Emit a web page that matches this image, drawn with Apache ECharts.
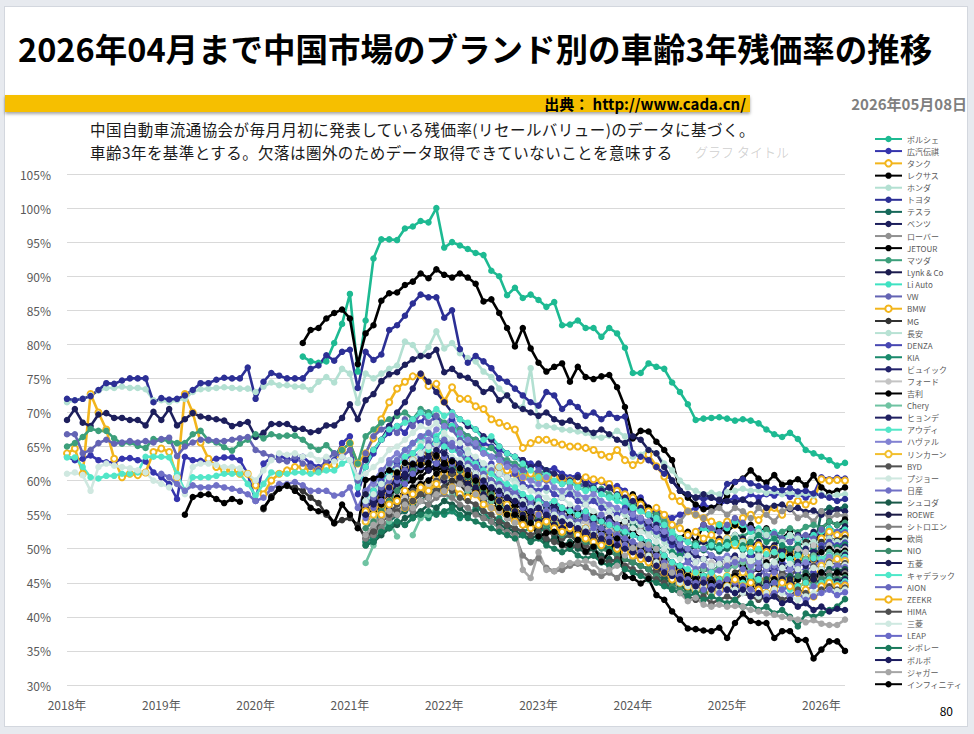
<!DOCTYPE html>
<html><head><meta charset="utf-8">
<script src="https://cdn.jsdelivr.net/npm/echarts/dist/echarts.min.js"></script>
<style>
html,body{margin:0;padding:0;background:#e7eaef;width:974px;height:734px;overflow:hidden;font-family:"Noto Sans CJK JP","Noto Sans",sans-serif;}
#panel{position:absolute;left:4px;top:6px;width:962px;height:719px;background:#fff;border:1px solid #d3d7de;}
#chart{position:absolute;left:0;top:0;width:974px;height:734px;z-index:1;}
.t{position:absolute;z-index:2;white-space:nowrap;margin:0;padding:0;}
#title{left:18px;top:24px;font-size:32.5px;font-weight:bold;color:#000;line-height:normal;}
#bar{position:absolute;z-index:2;left:5px;top:95px;width:745px;height:17px;background:#f6bf00;box-shadow:0 2px 3px rgba(0,0,0,0.35);}
#src{right:228px;top:94.6px;font-size:15px;font-weight:bold;color:#000;line-height:17px;}
#date{right:7px;top:94.6px;font-size:15px;font-weight:bold;color:#7f7f7f;line-height:17px;}
.sub{left:90px;font-size:15.5px;letter-spacing:0.45px;color:#1a1a1a;line-height:23px;}
#sub1{top:118px;}
#sub2{top:141px;}
#ghost{left:695px;top:144px;font-size:13px;line-height:15px;color:rgba(0,0,0,0.18);}
#page{right:21px;top:704.4px;font-size:12px;line-height:14px;color:#000;}
</style></head><body>
<div id="panel"></div>
<div id="chart"></div>
<div class="t" id="title">2026年04月まで中国市場のブランド別の車齢3年残価率の推移</div>
<div id="bar"></div>
<div class="t" id="src">出典： http://www.cada.cn/</div>
<div class="t" id="date">2026年05月08日</div>
<div class="t sub" id="sub1">中国自動車流通協会が毎月月初に発表している残価率(リセールバリュー)のデータに基づく。</div>
<div class="t sub" id="sub2">車齢3年を基準とする。欠落は圏外のためデータ取得できていないことを意味する</div>
<div class="t" id="ghost">グラフ タイトル</div>
<div class="t" id="page">80</div>
<script>
// ---- tick labels / categories ----
const months = [];
for (let y = 2018; y <= 2026; y++) for (let m = 1; m <= 12; m++) { if (y === 2026 && m > 4) break; months.push(y + '-' + String(m).padStart(2, '0')); }
const yTicks = [30, 35, 40, 45, 50, 55, 60, 65, 70, 75, 80, 85, 90, 95, 100, 105];

// ---- brands (legend order) ----
const brands = ['ポルシェ','広汽伝祺','タンク','レクサス','ホンダ','トヨタ','テスラ','ベンツ','ローバー','JETOUR','マツダ','Lynk & Co','Li Auto','VW','BMW','MG','長安','DENZA','KIA','ビュイック','フォード','吉利','Chery','ヒョンデ','アウディ','ハヴァル','リンカーン','BYD','プジョー','日産','シュコダ','ROEWE','シトロエン','欧尚','NIO','五菱','キャデラック','AION','ZEEKR','HIMA','三菱','LEAP','シボレー','ボルボ','ジャガー','インフィニティ'];
// first month index of each series
const startIdx = [30,0,0,30,0,0,38,0,38,38,0,38,38,0,38,25,38,38,38,38,38,38,38,38,0,38,38,38,0,12,38,38,38,38,38,38,38,38,38,38,38,38,38,38,38,15];

// ---- series values (%) ----
const v_porsche = [78.2,77.5,77.3,77.5,80.2,83.0,
 87.4,76.0,83.5,92.6,95.4,95.4,95.3,97.0,97.3,98.1,97.9,100.0,
 94.2,95.0,94.5,94.0,93.4,93.1,90.8,90.0,87.2,88.3,86.8,87.3,
 86.5,85.5,86.2,82.8,82.9,83.5,82.4,82.4,81.1,82.4,81.6,79.5,
 75.8,75.8,77.2,76.7,76.4,74.4,73.0,71.2,68.9,69.1,69.2,69.3,
 69.1,68.8,69.0,68.8,68.4,67.5,66.8,66.4,67.0,66.1,64.5,64.0,
 63.5,63.0,62.2,62.6];
const v_gac = [63.5,63.0,63.2,63.7,63.0,62.7,62.7,63.2,63.3,63.0,62.8,61.2,
 60.5,59.5,57.3,63.5,63.0,62.9,62.9,63.2,63.4,63.4,63.0,61.0,
 57.0,62.5,63.4,63.6,63.2,63.0,63.5,62.5,62.0,62.5,63.0,65.5,
 66.5,58.0,62.0,64.0,66.0,67.0,68.0,67.0,69.0,68.5,70.0,69.0,
 68.0,69.0,67.5,66.5,66.0,65.5,65.0,64.5,64.0,63.5,63.0,62.5,
 62.0,61.5,61.8,61.0,60.5,60.8,60.0,59.5,59.8,59.0,59.2,58.5,
 57.0,57.5,56.0,55.5,55.0,54.5,55.0,55.5,56.0,56.5,56.0,56.5,
 57.0,57.5,57.2,58.0,57.5,58.0,57.8,58.2,57.6,58.0,57.5,58.0,
 60.5,60.2,60.4,60.3];
const v_tank = [64.0,64.7,61.0,72.7,70.0,67.5,63.2,60.5,61.0,60.8,61.2,64.2,
 64.7,64.2,60.5,72.7,70.0,65.6,63.2,62.0,61.5,61.5,61.0,61.0,
 59.3,58.0,60.0,61.0,61.5,62.0,62.0,61.5,61.5,62.0,62.3,64.5,
 65.5,62.5,64.0,66.2,69.0,71.5,73.5,74.5,75.3,75.5,73.9,74.2,
 71.6,73.7,72.0,72.0,70.9,70.5,69.0,68.5,68.0,67.5,64.8,65.5,
 66.0,66.0,65.6,65.3,65.0,65.0,64.8,64.5,63.8,63.5,64.5,63.0,
 62.3,63.0,63.8,62.1,60.6,57.7,57.0,55.5,55.0,54.5,54.0,53.5,
 54.0,53.5,54.5,55.0,54.2,55.5,56.0,55.0,56.5,57.0,56.5,57.0,
 60.2,60.0,60.1,60.0];
const v_lexus = [80.2,82.1,82.4,83.8,84.6,85.1,
 83.8,77.1,81.6,82.8,86.4,87.5,87.6,88.7,89.2,90.4,89.7,91.0,
 90.2,89.8,90.4,89.8,88.9,86.3,86.6,84.6,82.4,79.7,82.4,79.4,
 77.3,76.0,76.7,77.2,74.5,76.7,75.2,74.9,75.3,75.5,73.7,70.8,
 66.2,67.3,67.2,65.7,64.5,63.0,58.5,57.5,56.5,55.8,56.0,56.5,
 57.8,59.8,60.3,61.5,60.3,59.7,60.8,59.4,59.7,60.2,59.3,60.8,
 59.0,58.2,58.5,59.0];
const v_honda = [71.5,71.8,72.0,72.5,73.2,73.6,73.6,73.8,73.6,73.6,73.4,71.8,
 71.8,71.5,71.8,72.0,73.0,73.4,73.5,73.6,73.7,73.6,73.5,73.5,
 73.0,73.8,74.4,74.0,74.0,73.8,73.8,73.3,74.5,75.2,74.4,76.4,
 75.7,71.4,75.7,75.0,75.7,76.4,76.9,80.4,79.9,78.2,79.6,81.9,
 79.4,80.2,78.7,78.0,77.5,76.0,75.2,73.5,72.5,71.0,70.8,76.5,
 68.0,68.0,67.8,67.5,67.4,67.2,67.0,66.5,66.3,66.6,67.3,66.5,
 63.5,63.8,64.5,64.0,62.5,61.5,60.0,59.0,58.5,58.0,58.2,58.0,
 58.3,58.5,58.8,58.5,58.6,58.2,58.4,58.0,58.3,57.9,58.1,57.8,
 58.0,57.7,57.9,58.0];
const v_toyota = [72.0,71.8,72.0,72.4,73.3,74.3,74.2,74.7,75.0,75.0,75.0,71.5,
 72.1,71.9,72.0,72.5,73.3,74.3,74.3,74.8,75.1,75.0,75.0,76.6,
 72.0,74.5,75.8,75.4,75.0,75.0,75.0,76.4,76.9,78.4,77.6,78.9,
 79.2,73.6,78.9,77.7,78.5,82.1,82.8,84.2,86.0,87.3,86.9,86.9,
 83.9,85.0,79.3,77.3,78.3,77.5,76.5,75.0,74.5,73.5,72.5,71.5,
 71.0,73.0,72.5,70.5,71.5,70.8,69.5,70.0,69.0,69.8,69.2,69.4,
 64.0,63.5,63.0,62.0,61.0,60.0,58.5,58.0,57.5,57.3,57.5,57.0,
 59.5,59.8,60.2,59.6,59.2,59.0,58.8,58.6,58.9,58.4,58.5,58.1,
 57.8,57.5,57.0,57.3];
const v_tesla = [51.0,51.5,53.0,54.0,55.0,55.5,56.5,57.0,58.0,58.5,
 59.0,60.5,61.0,60.0,59.5,58.5,58.0,57.0,56.5,57.5,56.0,55.5,
 56.0,55.0,55.5,54.5,55.0,54.0,54.5,53.5,53.0,53.5,52.5,52.0,
 53.5,53.0,52.5,52.0,51.5,51.0,50.5,50.0,50.5,49.8,50.2,49.6,
 50.0,50.5,49.8,50.2,49.5,50.0,49.2,49.8,49.0,49.5,48.8,49.2,
 55.5,56.0,55.8,56.2];
const v_benz = [68.9,70.5,68.5,68.0,69.7,69.9,69.2,69.2,68.9,68.9,68.1,70.1,
 68.9,70.5,68.1,69.0,69.9,69.4,69.2,69.0,68.8,68.0,68.3,68.6,
 66.4,67.0,68.3,68.3,68.3,67.6,67.6,67.1,67.3,68.1,68.1,69.2,
 71.2,69.0,71.8,72.7,74.6,75.6,75.9,77.0,77.8,78.3,78.3,79.2,
 75.9,76.4,75.4,75.1,74.3,73.0,73.5,71.8,72.5,71.0,70.5,70.0,
 69.5,70.0,69.0,68.5,68.8,68.0,67.5,67.0,67.5,66.8,66.0,65.5,
 66.5,66.0,64.5,64.0,62.0,60.0,58.5,58.0,57.5,58.0,57.5,57.2,
 57.0,56.8,57.2,56.5,56.8,56.0,56.3,56.5,55.8,56.0,55.4,55.6,
 55.0,55.3,55.8,55.5];
const v_rover = [52.0,53.0,55.5,55.0,56.5,57.5,57.0,58.5,58.0,59.5,
 60.0,59.5,60.5,59.0,58.5,59.0,57.5,57.0,58.0,56.5,56.0,55.5,
 56.5,55.5,56.0,55.0,54.5,55.0,54.0,53.5,54.0,53.0,52.5,53.5,
 52.0,53.0,54.0,55.0,54.5,53.0,54.0,55.5,55.0,54.5,55.5,56.0,
 55.0,56.0,55.5,54.5,56.0,55.0,54.0,55.5,56.0,54.5,55.0,54.0,
 55.5,54.5,55.0,54.8];
const v_jetour = [56.5,57.0,58.0,59.0,60.0,61.0,60.5,61.5,62.0,61.5,
 62.0,61.5,61.0,60.5,60.0,59.0,58.5,58.0,57.5,57.0,56.5,57.0,
 56.0,56.5,55.5,56.0,55.0,55.5,54.5,55.0,54.0,54.5,53.5,54.0,
 58.0,57.0,56.0,55.0,53.0,52.0,51.5,52.5,51.0,53.5,52.0,53.0,
 52.5,53.5,52.8,53.5,52.5,53.0,52.0,51.5,52.5,51.0,51.5,50.5,
 53.0,54.0,53.5,54.3];
const v_mazda = [65.0,65.5,66.4,67.6,67.3,67.3,66.2,65.4,65.6,65.1,64.8,66.1,
 66.0,65.8,65.5,65.5,66.8,67.3,65.9,65.6,64.9,64.4,65.4,66.0,
 66.8,66.2,66.8,66.5,66.6,66.6,66.0,65.0,64.5,65.2,64.0,64.5,
 65.5,62.5,66.5,67.5,68.5,69.0,69.5,70.0,69.0,70.5,70.0,69.5,
 68.5,68.0,67.5,66.5,66.0,64.5,64.8,63.5,63.0,62.5,62.0,60.5,
 61.0,61.5,60.8,60.0,59.5,59.8,59.0,58.5,58.8,58.0,57.5,57.8,
 56.5,56.0,55.5,55.0,54.0,52.5,51.5,51.0,50.8,51.2,50.5,51.0,
 51.5,52.0,51.8,52.5,52.2,52.8,52.0,52.5,53.0,52.4,53.2,53.5,
 53.0,54.0,53.5,53.8];
const v_lynk = [54.0,55.0,56.5,56.0,57.5,58.0,59.0,58.5,60.0,60.5,
 60.0,61.5,61.0,60.0,60.5,59.5,58.5,59.0,58.0,57.5,57.0,56.5,
 57.0,56.0,56.5,55.5,56.0,55.0,55.5,54.5,54.0,54.5,53.5,53.0,
 55.0,54.5,53.5,53.0,52.0,50.5,50.0,49.5,50.5,51.0,50.5,51.5,
 51.0,52.0,51.5,50.5,51.0,50.0,50.5,51.5,51.0,52.0,51.5,52.5,
 52.0,53.0,52.5,53.3];
const v_liauto = [56.0,58.0,60.0,62.5,63.0,64.5,65.5,66.0,67.0,66.5,
 67.5,68.0,66.5,66.0,65.0,64.5,63.5,63.0,62.5,62.0,61.0,60.5,
 60.0,61.0,60.5,59.5,60.0,59.0,58.5,59.0,58.0,57.5,57.0,56.5,
 56.0,55.5,55.0,54.0,53.0,52.0,51.0,51.5,52.5,53.0,52.5,53.5,
 53.0,54.0,53.5,52.5,53.0,52.0,52.5,51.5,52.0,51.0,51.5,52.0,
 52.5,53.0,52.5,52.8];
const v_vw = [66.8,66.8,64.0,64.5,65.5,66.0,65.4,65.6,65.8,65.6,65.8,65.6,
 66.1,66.3,63.6,65.0,65.6,66.0,66.0,65.8,65.8,66.0,66.2,66.4,
 64.5,64.0,63.5,63.0,62.8,63.5,62.5,62.0,61.5,63.0,64.0,63.5,
 64.5,60.0,64.0,66.5,67.5,68.0,67.0,69.0,68.0,70.0,68.5,69.5,
 68.0,67.5,66.0,65.5,65.0,64.0,63.5,63.8,62.5,62.0,61.5,61.0,
 61.5,60.0,60.5,59.5,60.2,59.0,59.5,58.8,58.5,59.0,58.0,57.5,
 55.5,56.0,55.0,54.5,53.0,51.5,51.0,51.5,52.5,53.5,53.0,52.5,
 53.5,54.5,53.8,53.0,52.5,51.8,52.2,51.5,51.0,51.8,52.0,51.5,
 52.8,52.0,52.5,52.4];
const v_bmw = [56.0,55.5,56.5,57.0,57.5,56.0,57.0,58.5,59.5,60.5,
 61.0,60.5,61.5,61.0,60.0,60.5,61.5,62.0,61.5,61.0,60.5,61.0,
 60.5,60.3,60.5,60.3,60.0,60.0,60.5,60.2,60.0,59.5,58.5,58.0,
 57.5,56.5,55.5,56.0,55.0,53.5,53.0,52.0,52.5,51.5,52.0,51.0,
 51.5,50.5,51.0,50.0,50.5,49.5,50.0,49.0,49.5,48.5,49.0,48.5,
 51.5,52.5,52.0,52.0];
const v_mg = [55.8,57.7,59.0,59.2,59.0,58.5,57.5,56.7,55.0,53.7,54.2,
 54.5,53.5,51.5,52.5,54.0,55.5,55.0,56.5,57.0,58.0,57.5,58.5,
 59.0,60.0,59.5,58.0,58.5,57.0,56.0,56.5,55.0,54.5,54.0,53.5,
 53.0,53.8,52.5,52.0,52.8,51.5,51.0,51.5,50.5,50.0,50.8,49.5,
 49.0,48.5,48.0,47.0,46.5,45.0,44.5,44.0,43.5,44.0,43.0,44.5,
 45.5,46.5,47.0,48.0,47.5,48.5,49.0,50.0,49.5,50.5,51.0,50.5,
 51.0,51.5,51.2,51.6];
const v_changan = [58.0,59.0,61.0,62.0,63.0,63.5,64.0,65.5,66.0,65.5,
 66.5,65.0,64.0,64.5,63.0,62.5,61.5,62.0,60.5,60.0,59.5,59.0,
 59.5,58.5,59.0,58.0,58.5,57.5,57.0,57.5,56.5,56.0,55.5,55.0,
 54.0,53.5,52.5,52.0,51.0,50.0,49.0,48.5,49.5,50.0,51.0,50.5,
 51.5,52.0,51.0,51.5,52.5,52.0,51.5,51.0,52.0,51.5,50.5,51.0,
 50.5,51.5,51.0,51.2];
const v_denza = [57.0,58.5,60.0,61.0,62.5,63.0,64.0,63.5,65.0,66.0,
 65.5,64.5,65.0,63.5,63.0,62.0,62.5,61.0,60.5,61.0,59.5,59.0,
 58.5,59.0,58.0,57.5,58.0,57.0,56.5,57.0,56.0,55.5,55.0,56.0,
 54.5,54.0,53.0,52.5,51.5,50.5,49.5,48.5,48.0,48.5,47.5,48.0,
 48.5,47.5,48.0,49.0,48.5,47.5,47.0,48.0,47.5,46.5,47.0,46.5,
 50.5,51.0,50.5,50.9];
const v_kia = [51.0,51.5,52.5,53.5,54.0,53.5,54.5,55.0,54.5,55.5,
 55.0,55.5,54.5,55.0,56.0,55.5,54.0,54.5,53.5,53.0,52.5,53.0,
 52.5,53.0,52.0,51.5,52.0,51.0,51.5,50.5,51.0,50.0,49.5,50.0,
 49.5,50.0,49.5,50.5,50.0,49.5,49.0,50.0,50.5,50.0,51.0,50.5,
 51.0,51.5,50.5,51.0,52.0,51.0,51.5,50.5,50.0,50.5,49.5,50.0,
 50.0,50.5,50.2,50.6];
const v_buick = [63.0,64.5,66.0,68.0,70.0,71.5,73.5,75.7,74.5,73.0,
 71.5,70.0,69.0,68.0,67.5,66.5,66.0,65.0,64.0,63.5,63.0,62.0,
 62.5,61.5,61.0,60.5,60.0,60.5,59.5,59.0,58.5,59.0,58.0,57.5,
 57.0,56.0,55.0,53.5,52.0,51.0,50.0,49.5,49.0,48.5,49.0,48.0,
 48.5,49.0,48.0,49.5,48.5,49.0,50.0,49.5,48.5,49.0,50.0,49.5,
 50.0,50.5,49.8,50.3];
const v_ford = [53.0,54.5,55.0,57.0,58.0,57.5,59.0,60.0,59.5,61.0,
 60.5,61.0,62.0,61.5,60.0,59.5,58.5,59.0,58.0,57.0,56.5,55.5,
 56.0,55.0,54.5,55.5,54.0,53.5,54.0,53.0,52.5,53.0,52.0,51.5,
 51.0,50.0,49.5,49.0,48.0,47.5,46.5,46.0,47.0,47.5,48.0,47.5,
 48.0,48.5,47.5,48.0,49.0,48.5,49.5,48.5,49.0,50.0,49.5,50.5,
 49.5,50.5,49.8,50.0];
const v_geely = [55.0,55.5,56.5,57.0,57.5,58.5,59.0,59.5,60.0,61.0,
 61.5,61.0,60.0,59.5,58.5,58.0,57.0,57.5,56.5,56.0,55.0,55.5,
 55.0,54.0,54.5,53.5,53.0,53.5,52.5,52.0,52.5,51.5,51.0,50.5,
 52.5,51.5,50.5,49.5,48.5,48.0,47.0,46.5,46.0,47.0,46.5,47.5,
 47.0,48.0,47.5,46.5,47.0,48.0,47.5,48.5,49.0,48.0,48.5,49.0,
 49.5,50.0,49.5,49.7];
const v_chery = [47.9,50.5,53.0,54.0,51.8,null,52.0,54.5,55.0,56.0,
 57.0,58.0,57.5,58.5,59.5,58.0,57.0,56.5,56.0,55.0,54.5,54.0,
 54.5,53.5,54.0,53.0,52.5,53.0,52.0,51.5,52.0,51.0,50.5,50.0,
 50.5,49.5,49.0,48.5,47.5,47.0,46.0,45.5,46.5,47.0,46.5,47.5,
 47.0,47.5,48.0,47.0,48.5,47.5,48.0,49.0,48.5,47.5,48.5,49.0,
 48.5,49.5,49.0,49.4];
const v_hyundai = [56.0,57.0,58.5,59.0,60.5,61.0,62.0,62.5,63.5,64.0,
 64.5,63.0,62.5,62.0,61.0,60.5,60.0,59.0,58.5,58.0,57.5,57.0,
 57.5,56.5,56.0,55.5,56.0,55.0,54.5,54.0,54.5,53.5,53.0,52.5,
 52.0,51.5,51.0,50.0,49.0,48.0,47.0,46.5,46.0,45.5,46.0,45.0,
 45.5,46.0,46.5,45.5,46.0,47.0,46.5,47.5,47.0,48.0,47.5,48.5,
 48.0,49.0,48.5,49.1];
const v_audi = [63.4,63.4,62.0,60.5,60.3,60.7,60.7,61.0,61.0,61.2,63.5,63.5,
 63.5,63.4,61.0,58.5,60.5,60.5,60.5,60.7,61.0,61.0,61.0,59.5,
 57.8,59.5,61.2,61.0,61.0,61.2,61.2,61.0,61.2,61.5,61.5,62.5,
 63.0,59.0,62.0,64.5,66.0,67.5,68.0,68.5,69.0,70.0,69.5,70.5,
 69.5,70.0,69.0,68.5,67.5,66.0,66.5,65.0,64.0,63.5,62.5,61.5,
 60.5,60.8,60.0,59.5,59.8,59.0,58.5,58.8,58.0,57.5,57.8,57.0,
 56.0,55.5,55.0,54.5,53.5,52.5,51.5,51.0,50.5,50.0,50.5,50.0,
 50.5,50.8,50.0,49.5,50.0,49.2,49.5,49.0,48.5,49.0,48.2,48.6,
 48.5,49.0,48.6,48.8];
const v_haval = [58.0,59.5,61.0,63.0,64.0,63.0,65.5,66.5,66.0,67.5,
 68.0,69.5,67.0,66.0,65.5,64.0,63.5,63.0,62.0,61.5,60.5,60.0,
 59.5,60.5,59.0,58.5,59.0,58.0,57.5,58.0,57.0,56.5,56.0,55.5,
 55.0,54.5,54.0,53.0,52.5,51.5,50.5,50.0,49.5,50.0,49.0,48.5,
 49.0,48.0,48.5,47.5,48.0,47.0,47.5,46.5,47.0,47.5,48.0,47.5,
 48.0,48.8,48.2,48.5];
const v_lincoln = [54.0,55.0,57.5,59.0,61.0,62.0,63.0,62.5,64.0,63.5,
 63.0,62.5,61.0,60.5,59.5,58.5,58.0,57.0,56.5,55.5,55.0,54.5,
 55.0,54.0,54.5,53.5,53.0,52.5,53.0,52.0,51.5,52.0,51.0,50.5,
 50.0,49.5,49.0,48.5,47.5,47.0,46.5,46.0,46.5,45.5,46.0,45.5,
 46.0,45.5,46.5,46.0,45.0,45.5,46.0,45.0,45.5,44.5,45.0,45.5,
 47.5,48.0,48.5,48.2];
const v_byd = [51.5,52.0,54.0,55.0,56.5,57.0,58.5,59.0,58.0,60.0,
 60.5,61.0,60.0,59.0,58.0,57.0,56.0,55.5,54.5,54.0,53.5,53.0,
 53.5,52.5,52.0,51.5,52.0,51.0,50.5,50.0,50.5,49.5,49.0,48.5,
 48.0,47.5,47.0,46.5,46.0,45.5,45.0,44.5,45.0,44.0,44.5,44.0,
 44.5,45.0,44.5,45.5,45.0,46.0,45.5,46.5,46.0,47.0,46.5,47.5,
 47.0,48.0,47.5,47.9];
const v_peugeot = [61.0,61.2,60.8,58.5,62.0,62.5,62.2,62.0,61.8,61.5,61.2,60.0,
 59.5,59.0,60.5,58.0,62.0,62.5,62.5,62.3,62.0,62.0,61.8,61.0,
 60.0,61.5,63.0,64.0,63.8,64.0,63.5,63.8,63.0,63.5,62.8,63.5,
 63.0,60.5,61.0,62.0,63.0,64.5,65.0,66.0,67.0,68.0,67.5,68.5,
 67.0,66.0,65.5,64.0,63.5,62.5,62.0,61.0,60.5,59.5,59.0,58.5,
 58.0,57.5,57.0,57.5,56.5,56.0,56.5,55.5,55.0,55.5,54.5,54.0,
 53.0,52.5,52.0,51.0,50.0,49.0,48.5,49.0,48.0,48.5,47.5,47.8,
 48.5,48.0,49.0,48.2,48.8,47.5,48.0,47.2,47.8,47.0,46.5,47.2,
 47.0,47.8,47.3,47.6];
const v_nissan = [61.0,60.5,59.5,58.5,59.3,59.0,59.0,59.3,59.0,58.8,58.5,58.0,
 57.0,57.5,58.8,59.5,59.5,59.8,59.3,58.5,58.5,58.5,57.8,58.0,
 59.0,56.0,58.5,60.0,61.5,62.5,63.0,64.5,65.5,66.5,67.0,66.0,
 65.0,65.5,64.0,63.0,62.0,61.0,61.5,60.0,59.0,58.5,58.0,57.0,
 57.5,56.5,57.0,56.0,55.5,56.0,55.0,54.5,55.0,54.0,53.5,53.0,
 52.0,51.5,51.0,50.0,49.0,48.0,47.5,48.0,47.0,47.5,46.5,46.8,
 47.5,48.0,47.0,46.5,47.2,46.0,46.5,45.8,46.2,45.5,46.0,45.5,
 46.5,47.0,47.5,47.3];
const v_skoda = [50.5,51.0,52.0,53.0,53.5,54.5,55.0,55.5,56.5,56.0,
 57.0,56.5,56.0,55.0,55.5,54.5,54.0,53.5,53.0,52.5,52.0,51.5,
 52.0,51.0,51.5,50.5,51.0,50.0,49.5,50.0,49.0,48.5,48.0,48.5,
 48.0,47.5,47.0,46.0,45.5,45.0,44.5,44.0,44.5,44.0,43.5,44.0,
 44.5,44.0,45.0,44.5,45.0,45.5,44.5,45.5,46.0,45.5,46.5,46.0,
 46.5,47.0,46.8,47.0];
const v_roewe = [58.0,57.5,59.0,60.5,61.0,62.0,62.5,63.0,64.0,63.5,
 63.0,62.5,61.5,60.5,60.0,59.5,58.5,58.0,57.5,56.5,56.0,55.5,
 56.0,55.0,54.5,54.0,54.5,53.5,53.0,52.5,53.0,52.0,51.5,51.0,
 50.5,50.0,49.5,48.5,47.5,47.0,46.5,46.0,45.5,45.0,45.5,44.5,
 45.0,44.5,45.5,45.0,44.0,44.5,45.5,45.0,45.5,46.0,45.5,46.0,
 46.5,46.0,46.5,46.7];
const v_citroen = [51.5,52.0,53.0,54.5,55.0,56.0,55.5,57.0,56.5,57.5,
 58.0,57.5,56.5,56.0,55.0,54.5,54.0,53.0,52.5,52.0,49.0,48.0,
 48.6,47.2,46.7,46.9,47.5,47.8,47.3,46.5,46.0,46.5,45.7,47.0,
 48.6,49.6,50.5,50.0,49.0,47.5,46.0,45.0,45.5,44.5,45.0,44.0,
 44.5,45.0,44.0,44.5,45.5,45.0,45.5,46.0,45.0,45.5,46.0,45.5,
 46.0,46.5,46.0,46.4];
const v_oshan = [55.5,56.0,57.5,58.0,58.5,59.5,60.0,60.5,61.5,62.0,
 62.5,62.0,61.5,60.5,60.0,59.0,58.5,58.0,57.5,56.5,56.0,55.0,
 54.5,54.0,53.5,53.0,53.5,52.5,52.0,52.5,51.5,51.0,50.5,50.0,
 49.5,50.0,49.0,48.0,47.0,46.5,47.5,46.0,45.5,46.0,45.0,45.5,
 45.0,46.0,45.5,44.5,45.0,44.5,45.5,44.5,45.0,45.5,46.0,45.5,
 46.5,46.0,46.5,46.1];
const v_nio = [53.0,54.0,55.5,57.0,58.5,60.0,61.5,62.0,63.0,62.5,
 63.5,62.0,61.5,60.5,59.5,58.5,58.0,57.0,56.0,55.5,55.0,54.0,
 54.5,53.5,53.0,52.0,52.5,51.5,51.0,50.5,50.0,49.5,49.0,48.5,
 48.0,47.5,47.0,46.0,45.0,44.5,44.0,43.5,44.0,43.5,44.5,44.0,
 44.5,45.0,44.5,45.5,45.0,44.5,45.0,45.5,45.0,46.0,45.5,45.0,
 45.5,46.0,45.5,45.8];
const v_wuling = [55.0,56.0,57.0,58.0,59.5,60.5,61.0,62.0,61.5,62.5,
 62.0,61.5,60.5,59.5,59.0,58.0,57.5,57.0,56.0,55.5,55.0,54.5,
 54.0,54.5,53.5,53.0,52.5,53.0,52.0,51.5,51.0,51.5,50.5,50.0,
 49.5,49.0,48.5,47.5,46.5,46.0,45.5,45.0,44.5,45.0,44.0,44.5,
 44.0,44.5,45.0,44.0,44.5,45.0,44.5,45.5,45.0,44.5,45.0,45.5,
 45.0,45.5,45.2,45.5];
const v_cadillac = [57.0,58.5,59.5,61.0,62.0,63.5,64.0,65.0,64.5,66.0,
 65.0,64.5,64.0,63.0,62.5,61.5,61.0,60.0,59.5,59.0,58.0,57.5,
 57.0,56.5,57.0,56.0,55.5,55.0,55.5,54.5,54.0,53.5,53.0,52.5,
 52.0,51.5,51.0,50.0,49.0,48.0,47.5,47.0,46.5,46.0,46.5,45.5,
 46.0,45.5,45.0,46.0,45.5,44.5,45.0,44.5,44.0,44.5,45.0,44.5,
 45.0,45.5,44.8,45.2];
const v_aion = [56.5,57.5,59.0,60.0,62.0,61.5,63.0,64.0,65.5,64.5,
 66.0,65.0,64.0,62.5,62.0,61.0,60.0,59.5,58.5,58.0,57.0,56.5,
 56.0,56.5,55.5,55.0,54.5,54.0,54.5,53.5,53.0,52.5,52.0,51.5,
 51.0,50.5,50.0,49.0,48.0,47.0,46.0,45.5,45.0,45.5,44.5,45.0,
 45.5,45.0,44.5,45.0,44.0,44.5,45.0,44.0,44.5,43.5,44.0,44.5,
 44.5,45.0,44.6,44.9];
const v_zeekr = [55.5,56.0,55.0,56.5,57.0,58.5,58.0,59.0,58.5,59.5,
 58.5,59.0,58.0,57.5,58.0,56.5,56.0,55.5,55.0,54.0,53.5,53.0,
 53.5,54.0,53.0,52.5,53.0,52.0,51.5,51.0,50.5,51.0,50.0,49.5,
 49.0,48.5,48.0,47.5,46.5,45.5,45.0,44.5,44.0,44.5,43.5,44.0,
 44.5,45.5,44.5,45.0,44.0,43.5,44.0,45.0,44.5,43.5,44.0,43.0,
 44.5,45.0,44.5,44.6];
const v_hima = [52.0,52.5,54.0,55.0,55.5,56.5,57.0,58.0,57.5,58.5,
 59.0,58.5,57.5,57.0,56.5,55.5,55.0,54.0,53.5,53.0,52.5,52.0,
 52.5,51.5,51.0,50.5,50.0,50.5,49.5,49.0,48.5,48.0,48.5,47.5,
 47.0,46.5,46.0,45.5,45.0,44.0,43.5,43.0,42.5,43.0,42.0,42.5,
 43.0,42.5,43.5,43.0,42.5,43.0,43.5,42.5,43.0,44.0,43.5,43.0,
 44.0,44.5,44.0,44.3];
const v_mitsubishi = [57.0,58.0,59.5,60.5,61.5,62.5,63.0,64.0,65.0,64.5,
 64.0,63.5,63.0,62.0,61.0,60.5,59.5,59.0,58.0,57.5,57.0,56.0,
 56.5,55.5,55.0,54.5,54.0,53.5,53.0,52.5,52.0,51.5,51.0,50.5,
 50.0,49.5,49.0,48.0,47.0,46.0,45.0,44.5,44.0,44.5,43.5,44.0,
 44.5,44.0,43.5,44.0,43.0,43.5,44.0,43.5,43.0,42.5,43.0,43.5,
 43.5,44.0,43.8,44.0];
const v_leap = [54.5,56.0,57.0,58.5,60.0,59.5,61.0,62.0,63.0,62.5,
 63.5,62.5,62.0,61.0,60.5,59.5,59.0,58.0,57.5,57.0,56.0,55.5,
 55.0,55.5,54.5,54.0,53.5,53.0,52.5,53.0,52.0,51.5,51.0,50.5,
 50.0,49.5,48.5,47.5,47.0,46.5,45.5,45.0,44.5,44.0,44.5,43.5,
 44.0,43.5,44.5,44.0,43.5,43.0,43.5,44.0,43.0,43.5,42.5,43.0,
 43.5,44.0,43.2,43.6];
const v_chevrolet = [50.5,51.0,52.5,53.0,54.0,53.5,54.5,55.0,55.5,55.0,
 55.5,56.0,55.0,54.5,54.0,53.5,53.0,52.5,52.0,51.5,52.0,51.0,
 51.5,50.5,50.0,49.5,50.0,49.0,48.5,49.0,48.0,47.5,48.0,47.0,
 46.5,46.0,45.5,45.0,44.5,44.0,43.5,43.0,43.5,42.5,43.0,42.5,
 42.0,42.5,41.5,42.0,41.0,41.5,40.5,41.0,40.0,38.6,40.5,40.0,
 40.5,41.0,41.5,42.6];
const v_volvo = [55.0,56.5,58.0,59.0,60.5,61.0,62.5,63.0,63.5,64.5,
 64.0,63.0,62.5,61.5,60.5,60.0,59.0,58.5,57.5,57.0,56.5,55.5,
 56.0,55.0,54.5,54.0,53.5,53.0,52.5,52.0,51.5,51.0,50.5,50.0,
 49.5,49.0,48.5,47.5,46.5,46.0,45.5,45.0,44.5,45.0,44.0,44.5,
 44.0,43.5,44.0,43.0,43.5,42.5,43.0,42.0,42.5,41.5,42.0,41.0,
 41.5,40.8,41.2,41.0];
const v_jaguar = [52.0,53.5,54.0,55.5,55.0,56.5,56.0,57.0,57.5,58.0,
 58.5,59.0,59.5,58.8,58.0,57.5,56.0,55.5,54.5,53.8,46.9,45.7,
 49.5,46.9,46.7,47.6,47.9,48.0,48.2,47.8,46.7,46.9,47.5,49.0,
 50.1,50.6,50.6,50.0,47.5,46.5,43.5,42.3,42.8,41.8,41.5,41.8,
 41.5,41.6,41.5,41.0,40.8,40.5,40.3,40.0,39.8,39.6,39.2,39.5,
 39.0,38.8,38.8,39.6];
const v_infiniti = [55.0,57.6,57.9,58.0,57.3,56.7,57.3,56.9,null,
 null,56.0,57.5,58.8,59.3,58.5,57.5,56.0,55.5,55.3,53.8,56.5,
 55.0,53.0,60.1,60.3,60.8,61.5,61.2,62.6,62.4,62.3,62.6,63.7,
 62.5,62.8,61.8,60.8,60.0,59.0,57.5,56.0,55.0,55.0,54.5,53.8,
 51.8,52.3,52.5,50.6,50.6,51.3,49.6,50.3,48.1,49.5,51.5,45.9,
 45.7,44.9,45.6,43.2,42.5,40.8,39.6,38.3,38.2,38.0,37.9,38.4,
 36.9,39.1,40.5,39.4,39.1,39.1,36.9,37.9,37.9,36.6,36.6,33.9,
 35.2,36.4,36.4,35.0];

const values = [v_porsche,v_gac,v_tank,v_lexus,v_honda,v_toyota,v_tesla,v_benz,v_rover,v_jetour,v_mazda,v_lynk,v_liauto,v_vw,v_bmw,v_mg,v_changan,v_denza,v_kia,v_buick,v_ford,v_geely,v_chery,v_hyundai,v_audi,v_haval,v_lincoln,v_byd,v_peugeot,v_nissan,v_skoda,v_roewe,v_citroen,v_oshan,v_nio,v_wuling,v_cadillac,v_aion,v_zeekr,v_hima,v_mitsubishi,v_leap,v_chevrolet,v_volvo,v_jaguar,v_infiniti];

// ---- styles ----
const colors = ['#1dba92','#3535ad','#f2b51c','#000000','#b3e0d2','#2c2f95','#17695a','#1d1f5c','#919191','#000000','#3c9f7b','#1c1c4f','#3fe2c2','#6464b4','#f2b51c','#333333','#b8e2d4','#4747b2','#1a8a6c','#23236b','#c4c4c4','#000000','#6fc3a2','#202062','#52e6c8','#8282d2','#f2bf2e','#525252','#cfe8e0','#7070c6','#1a5a49','#1c1c47','#808080','#000000','#3b8b6b','#1c1c52','#4ee8c9','#6868bf','#f2b51c','#4f4f4f','#cfe9e1','#6a6ac8','#1a7a5c','#1c1c5f','#a6a6a6','#000000'];
const goldIdx = new Set([2,14,26,38]);

const series = brands.map((name, k) => {
  const arr = new Array(months.length).fill(null);
  values[k].forEach((v, j) => { const i = startIdx[k] + j; if (i < months.length) arr[i] = v; });
  const gold = goldIdx.has(k);
  return {
    name, type: 'line', data: arr, connectNulls: false,
    symbol: gold ? 'emptyCircle' : 'circle', symbolSize: gold ? 6 : 6.5,
    showSymbol: true, showAllSymbol: true,
    lineStyle: { width: 2.6, color: colors[k] },
    itemStyle: { color: colors[k], borderColor: colors[k], borderWidth: gold ? 1.4 : 0 },
    emphasis: { disabled: true }, animation: false
  };
});

const chart = echarts.init(document.getElementById('chart'), null, { renderer: 'svg' });
const F = '"Noto Sans CJK JP", "Noto Sans", sans-serif';
chart.setOption({
  animation: false,
  backgroundColor: 'transparent',
  textStyle: { fontFamily: F },
  grid: { left: 67, right: 129, top: 174, bottom: 49, containLabel: false },
  xAxis: {
    type: 'category', data: months, boundaryGap: false,
    axisLine: { show: false }, axisTick: { show: false }, splitLine: { show: false },
    axisLabel: { interval: 11, color: '#595959', fontSize: 12, margin: 13, fontFamily: F,
      formatter: v => v.slice(0, 4) + '年' }
  },
  yAxis: {
    type: 'value', min: yTicks[0], max: yTicks[yTicks.length - 1], interval: 5,
    axisLine: { show: false }, axisTick: { show: false },
    splitLine: { lineStyle: { color: '#d9d9d9', width: 1 } },
    axisLabel: { color: '#595959', fontSize: 12, margin: 16, fontFamily: F, formatter: '{value}%' }
  },
  legend: {
    orient: 'vertical', left: 869, top: 130, itemWidth: 27, itemHeight: 8, itemGap: 4.08,
    textStyle: { fontSize: 8, color: '#595959', lineHeight: 8, fontFamily: F },
    data: brands
  },
  series
});
</script></body></html>
